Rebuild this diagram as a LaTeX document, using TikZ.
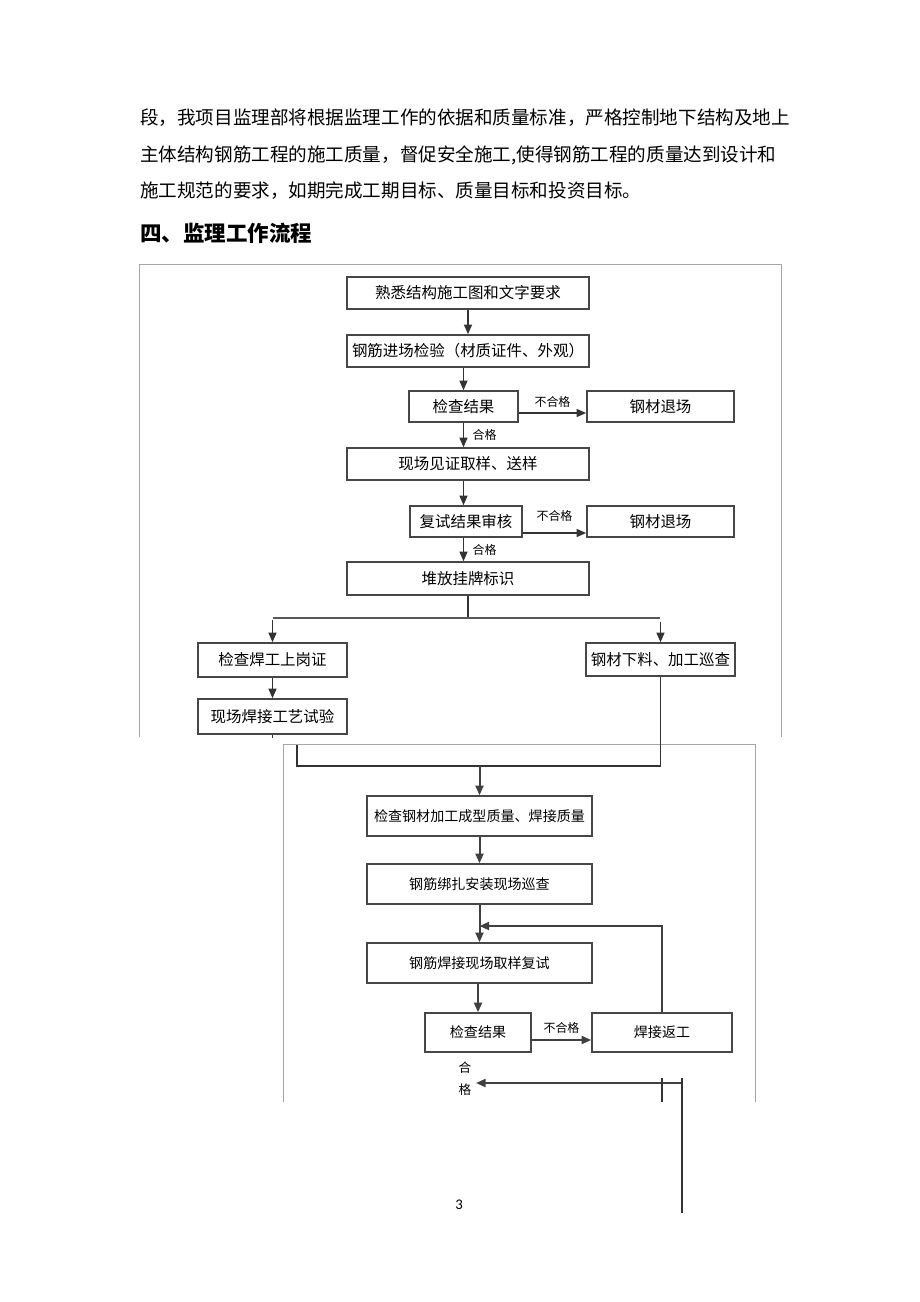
\documentclass[tikz,border=0pt]{standalone}
\usepackage{fontspec}
\newfontfamily\cjk{Noto Sans CJK SC}
\newfontfamily\cali{Carlito}
\usetikzlibrary{arrows.meta}
\newcommand{\px}{0.25mm}

\begin{document}
\begin{tikzpicture}[x=\px,y=-\px,
  para/.style={anchor=west, inner sep=0pt, font=\cjk\fontsize{13.2}{16}\selectfont},
  head/.style={para, font=\cjk\bfseries\fontsize{15.3}{18}\selectfont},
  box/.style={draw=black!72, line width=0.4mm, inner sep=0pt, font=\cjk\fontsize{11}{13}\selectfont},
  boxb/.style={box, font=\cjk\fontsize{10}{12}\selectfont},
  lbl/.style={inner sep=1pt, font=\cjk\fontsize{8.5}{10}\selectfont},
  ln/.style={draw=black!80, line width=0.38mm},
  arr/.style={ln, -{Triangle[length=2.4mm,width=2mm]}},
  arrb/.style={arr, draw=black!75, line width=0.5mm},
  frame/.style={draw=black!35, line width=0.25mm}]
\fill[white] (0,0) rectangle (920,1302);
\useasboundingbox (0,0) rectangle (920,1302);
% Text
\node[para] (duan1) at (140,118) {段，我项目监理部将根据监理工作的依据和质量标准，严格控制地下结构及地上};
\node[para] (duan2) at (140,155) {主体结构钢筋工程的施工质量，督促安全施工,使得钢筋工程的质量达到设计和};
\node[para] (duan3) at (140,191) {施工规范的要求，如期完成工期目标、质量目标和投资目标。};
\node[head] (biaoti) at (140,233) {四、监理工作流程};
% Frames
\draw[frame] (139,737) -- (139,264) -- (781,264) -- (781,737);
\draw[frame] (283,1102) -- (283,744) -- (755,744) -- (755,1102);
% Boxes, part 1
\node[box, minimum width=242*\px, minimum height=32*\px] (shuxi) at (468,293) {熟悉结构施工图和文字要求};
\node[box, minimum width=242*\px, minimum height=32*\px] (jinchang) at (468,351) {钢筋进场检验（材质证件、外观）};
\node[box, minimum width=109*\px, minimum height=31*\px] (jiancha1) at (463.5,406.5) {检查结果};
\node[box, minimum width=147*\px, minimum height=31*\px] (tuichang1) at (660.5,406.5) {钢材退场};
\node[box, minimum width=242*\px, minimum height=32*\px] (jianzheng) at (468,464) {现场见证取样、送样};
\node[box, minimum width=112*\px, minimum height=31*\px] (fushi) at (466,521.5) {复试结果审核};
\node[box, minimum width=147*\px, minimum height=31*\px] (tuichang2) at (660.5,521.5) {钢材退场};
\node[box, minimum width=242*\px, minimum height=33*\px] (duifang) at (468,578.5) {堆放挂牌标识};
\node[box, minimum width=149*\px, minimum height=34*\px] (hangong) at (272.5,660) {检查焊工上岗证};
\node[box, minimum width=149*\px, minimum height=33*\px] (xialiao) at (660.5,659.5) {钢材下料、加工巡查};
\node[box, minimum width=149*\px, minimum height=35*\px] (gongyi) at (272.5,716.5) {现场焊接工艺试验};
% Boxes, part 2
\node[boxb, minimum width=225*\px, minimum height=40*\px] (chengxing) at (479.5,816) {检查钢材加工成型质量、焊接质量};
\node[boxb, minimum width=225*\px, minimum height=40*\px] (bangza) at (479.5,884) {钢筋绑扎安装现场巡查};
\node[boxb, minimum width=225*\px, minimum height=40*\px] (quyang) at (479.5,963) {钢筋焊接现场取样复试};
\node[boxb, minimum width=106*\px, minimum height=39*\px] (jiancha2) at (478,1032.5) {检查结果};
\node[boxb, minimum width=140*\px, minimum height=39*\px] (fangong) at (662,1032.5) {焊接返工};
% Coordinates
\coordinate (fen) at (468,618);
\coordinate (fenL) at (273,618);
\coordinate (fenR) at (660,618);
\coordinate (huiR) at (660.5,766);
\coordinate (huiL) at (297,766);
\coordinate (huiT) at (297,745);
\coordinate (huifan) at (479.5,926);
\coordinate (hgR) at (682,1083);
\coordinate (hgL) at (476,1083);
\coordinate (xiaB) at (682,1213);
\coordinate (keT) at (662,1078);
\coordinate (keB) at (662,1102);
% Arrows, part 1
\draw[arr] (shuxi) -- (jinchang);
\draw[arr] (jinchang.south -| jiancha1) -- (jiancha1);
\draw[arr] ([yshift=-6.5*\px]jiancha1.east) -- node[lbl, above=3*\px]{不合格} ([yshift=-6.5*\px]tuichang1.west);
\draw[arr] (jiancha1) -- node[lbl, right=7*\px]{合格} (jiancha1 |- jianzheng.north);
\draw[arr] (jianzheng.south -| jiancha1) -- (jiancha1 |- fushi.north);
\draw[arr] ([yshift=-11.5*\px]fushi.east) -- node[lbl, above=9*\px]{不合格} ([yshift=-11.5*\px]tuichang2.west);
\draw[arr] (fushi.south -| jiancha1) -- node[lbl, right=7*\px]{合格} (jiancha1 |- duifang.north);
\draw[ln] (duifang) -- (fen);
\draw[ln, draw=black!65] (fenL) -- (fenR);
\draw[arr] ([yshift=-2*\px]hangong |- fen) -- (hangong);
\draw[arr] ([yshift=-4*\px]xialiao |- fen) -- (xialiao);
\draw[arr] (hangong) -- (gongyi);
\draw[ln] (gongyi.south) -- ++(0,3);
\draw[ln] (xialiao) -- (huiR) -- (huiL) -- (huiT);
% Arrows, part 2
\draw[arrb] (chengxing |- huiL) -- (chengxing);
\draw[arrb] (chengxing) -- (bangza);
\draw[arrb] (bangza) -- (quyang);
\draw[arrb] (fangong) -- (fangong |- huifan) -- (huifan);
\draw[arrb] (jiancha2 |- quyang.south) -- (jiancha2);
\draw[arrb] ([yshift=-7.5*\px]jiancha2.east) -- node[lbl, above=4*\px]{不合格} ([yshift=-7.5*\px]fangong.west);
\node[lbl, align=center, font=\cjk\fontsize{9}{15.6}\selectfont] (hege) at (465,1079) {合\\格};
\draw[arrb] (hgR) -- (hgL);
\draw[ln, line width=0.3mm] (keT) -- (keB);
\draw[ln, line width=0.3mm] (hgR |- keT) -- (xiaB);
% Page number
\node[font=\cali\fontsize{10.5}{12}\selectfont] (yema) at (459,1205) {3};
\end{tikzpicture}
\end{document}
